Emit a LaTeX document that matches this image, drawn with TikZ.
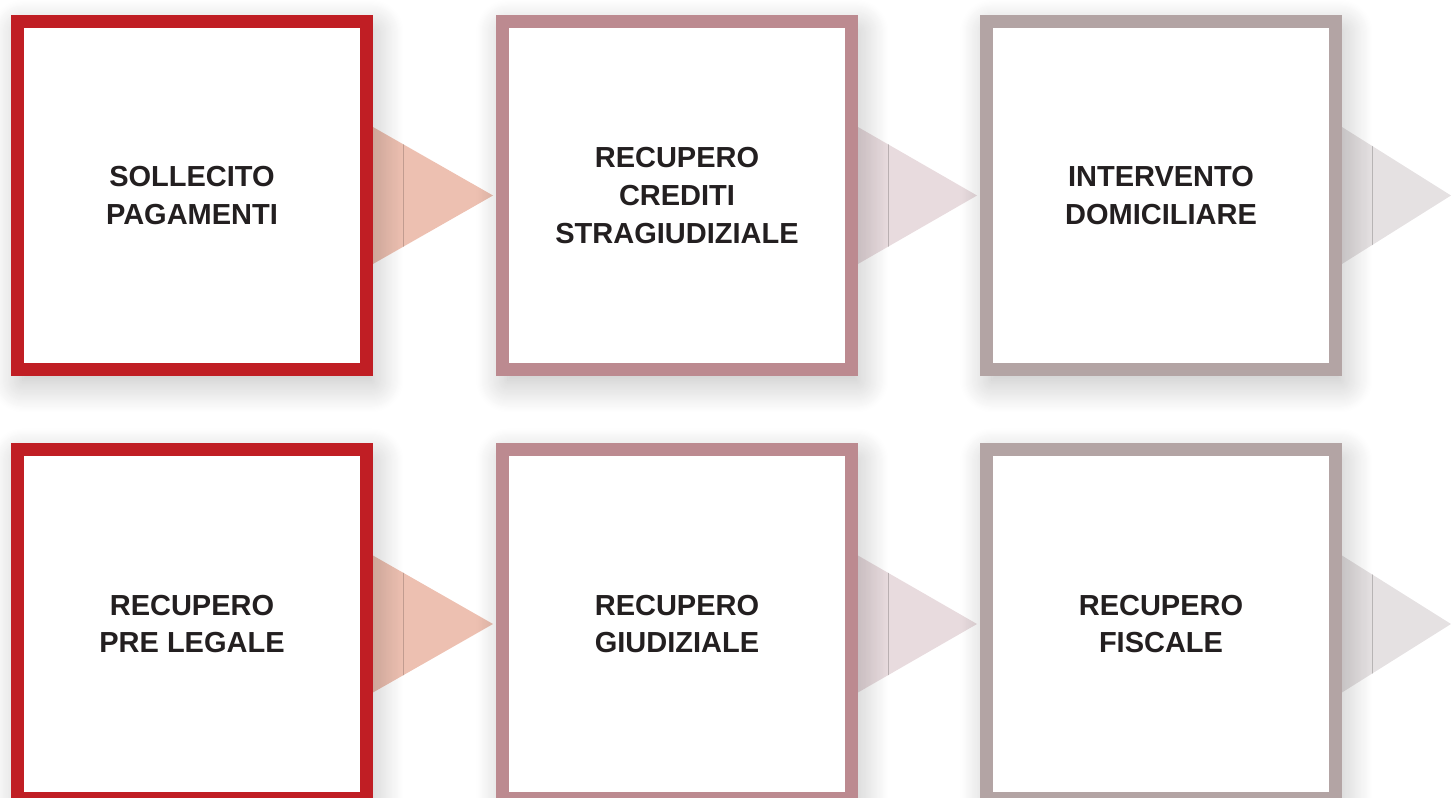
\documentclass[tikz,border=0pt]{standalone}
\usepackage{fontspec}
\newfontfamily\boxfont{Liberation Sans}
\usetikzlibrary{shadows.blur,calc,backgrounds}

\definecolor{redline}{RGB}{192,30,36}
\definecolor{pinkline}{RGB}{188,138,144}
\definecolor{grayline}{RGB}{179,164,164}
\definecolor{redtip}{RGB}{237,192,177}
\definecolor{pinktip}{RGB}{232,219,222}
\definecolor{graytip}{RGB}{229,225,226}
\definecolor{boxtext}{RGB}{35,31,32}

\tikzstyle{stage} = [minimum size=6.98cm, rectangle, line width=0.26cm, fill=white, text=boxtext, align=center,
  font={\boxfont\bfseries\fontsize{16.5}{21.5}\selectfont},
  blur shadow={shadow xshift=3pt, shadow yshift=-6pt, shadow blur radius=18pt, shadow blur steps=30, shadow opacity=28}]
\tikzstyle{tip} = [draw=none]

\begin{document}
\begin{tikzpicture}[x=0.02cm, y=-0.02cm]
\useasboundingbox (0,0) rectangle (1451,798);

% First row
	\node[stage, draw=redline] at (192,195.5) (sollecito) {SOLLECITO\\PAGAMENTI};
	\node[stage, draw=pinkline] at (677,195.5) (stragiud) {RECUPERO\\CREDITI\\STRAGIUDIZIALE};
	\node[stage, draw=grayline] at (1161,195.5) (domicil) {INTERVENTO\\DOMICILIARE};

% Second row
	\node[stage, draw=redline] at (192,624) (prelegale) {RECUPERO\\PRE LEGALE};
	\node[stage, draw=pinkline] at (677,624) (giudiz) {RECUPERO\\GIUDIZIALE};
	\node[stage, draw=grayline] at (1161,624) (fiscale) {RECUPERO\\FISCALE};
	\coordinate (endtop) at (1451,195.5);
	\coordinate (endbot) at (1451,624);

% Arrow tips behind the boxes
\begin{scope}[on background layer]
	\fill[tip, redtip] ($(sollecito.east)+(0,-68.5)$) -- ($(stragiud.west)+(-3,0)$) -- ($(sollecito.east)+(0,68.5)$) -- cycle;
	\fill[tip, pinktip] ($(stragiud.east)+(0,-68.5)$) -- ($(domicil.west)+(-3,0)$) -- ($(stragiud.east)+(0,68.5)$) -- cycle;
	\fill[tip, graytip] ($(domicil.east)+(0,-68.5)$) -- (endtop) -- ($(domicil.east)+(0,68.5)$) -- cycle;
	\fill[tip, redtip] ($(prelegale.east)+(0,-68.5)$) -- ($(giudiz.west)+(-3,0)$) -- ($(prelegale.east)+(0,68.5)$) -- cycle;
	\fill[tip, pinktip] ($(giudiz.east)+(0,-68.5)$) -- ($(fiscale.west)+(-3,0)$) -- ($(giudiz.east)+(0,68.5)$) -- cycle;
	\fill[tip, graytip] ($(fiscale.east)+(0,-68.5)$) -- (endbot) -- ($(fiscale.east)+(0,68.5)$) -- cycle;
\end{scope}

\end{tikzpicture}
\end{document}
